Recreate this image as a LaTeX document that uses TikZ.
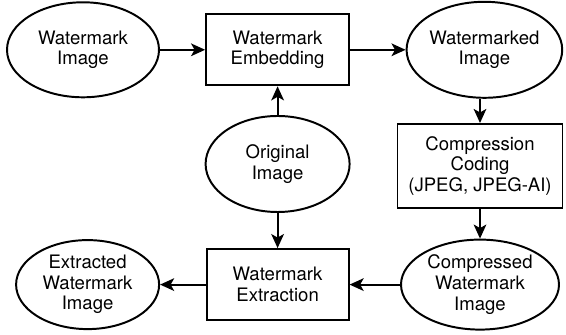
\documentclass[tikz,border=0pt]{standalone}
\usepackage{fontspec}
\setmainfont{TeX Gyre Heros}
\usetikzlibrary{shapes.geometric,arrows.meta,positioning}
\tikzset{
   every path/.style={>={Stealth[length=10pt,width=9pt,inset=2.5pt]}},
   img/.style={ellipse,draw,line width=1.4pt,inner sep=0pt,align=center,
      font=\fontsize{13.2}{14.6}\selectfont},
   proc/.style={rectangle,draw,line width=1.4pt,inner sep=0pt,align=center,
      font=\fontsize{13.2}{14.6}\selectfont},
   flow/.style={->,line width=1.4pt},
}

\begin{document}
\begin{tikzpicture}

      \useasboundingbox (0,0) rectangle (14.15,8.375);

      % top row
      \node (wimg) [img, minimum width=3.8cm, minimum height=2.375cm]
      at (2.075, 7.13)
      {Watermark\\Image};

      \node (emb) [proc, minimum width=3.575cm, minimum height=1.775cm]
      at (6.94, 7.13)
      {Watermark\\Embedding};

      \node (wmd) [img, minimum width=3.825cm, minimum height=2.4cm]
      at (12.11, 7.13)
      {Watermarked\\Image};

      % middle
      \node (orig) [img, minimum width=3.6cm, minimum height=2.4cm]
      at (6.94, 4.275)
      {Original\\Image};

      \node (comp) [proc, minimum width=4.125cm, minimum height=2.1cm]
      at (12.0, 4.225)
      {Compression\\Coding\\(JPEG, JPEG-AI)};

      % bottom row
      \node (cwm) [img, minimum width=3.95cm, minimum height=2.25cm]
      at (12.0, 1.26)
      {Compressed\\Watermark\\Image};

      \node (ext) [proc, minimum width=3.55cm, minimum height=1.775cm]
      at (6.94, 1.26)
      {Watermark\\Extraction};

      \node (xwm) [img, minimum width=3.575cm, minimum height=2.225cm]
      at (2.19, 1.26)
      {Extracted\\Watermark\\Image};

      \draw[flow] (wimg) -- (emb);
      \draw[flow] (emb) -- (wmd);
      \draw[flow] (wmd.south -| comp.north) -- (comp);
      \draw[flow] (comp) -- (comp.south |- cwm.north);
      \draw[flow] (cwm) -- (ext);
      \draw[flow] (ext) -- (xwm);
      \draw[flow] (orig) -- (emb);
      \draw[flow] (orig) -- (ext);
    \end{tikzpicture}
\end{document}
